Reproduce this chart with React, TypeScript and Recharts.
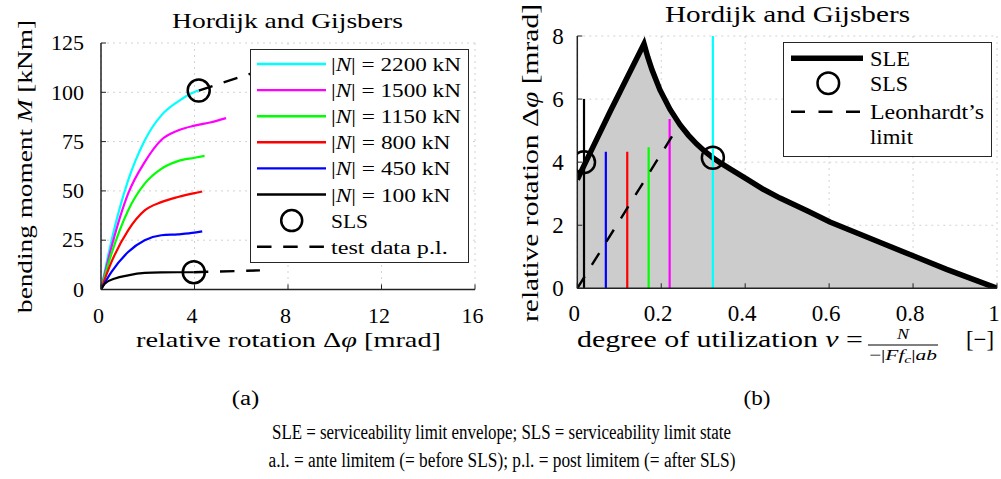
import React from 'react';
import { ComposedChart, Line, Area, Scatter, XAxis, YAxis, CartesianGrid, Legend } from 'recharts';

const FONT = '"Liberation Serif", "Times New Roman", serif';
const AX = '#222222';
const GRID = '#d2d2d2';

// ---------- (a) bending moment vs relative rotation ----------
const loadLabels = ['2200', '1500', '1150', '800', '450', '100'];
const loadColors = ['#00ffff', '#ff00ff', '#00ff00', '#ff0000', '#0000ff', '#000000'];

const phi2200 = [0, 0.45, 1.16, 1.87, 2.58, 3.29, 4.0, 4.18];
const m2200 = [0, 24.9, 55.3, 75.6, 88.3, 95.3, 100.2, 100.9];
const phi1500 = [0, 0.45, 1.16, 1.87, 2.58, 3.29, 4.0, 4.71, 5.35];
const m1500 = [0, 21.6, 48.6, 64.6, 75.8, 80.6, 83.1, 84.8, 86.9];
const phi1150 = [0, 0.45, 1.16, 1.87, 2.58, 3.29, 4.0, 4.43];
const m1150 = [0, 18.2, 40.1, 53.7, 61.2, 65.1, 66.8, 67.8];
const phi800 = [0, 0.45, 1.16, 1.87, 2.58, 3.29, 4.0, 4.33];
const m800 = [0, 14.0, 30.0, 40.1, 44.3, 46.9, 48.9, 49.7];
const phi450 = [0, 0.45, 1.16, 1.87, 2.58, 3.29, 4.0, 4.33];
const m450 = [0, 8.9, 19.0, 25.0, 27.5, 28.0, 28.8, 29.5];
const phi100 = [0, 0.17, 0.6, 1.16, 1.87, 2.58, 3.29, 3.97];
const m100 = [0, 3.0, 5.6, 7.2, 8.4, 8.7, 8.75, 8.76];

const slsPhiA = [4.18, 3.97];
const slsMA = [100.9, 8.76];
const testTopPhi = [4.18, 6.8];
const testTopM = [100.9, 111.0];
const testBotPhi = [3.97, 6.8];
const testBotM = [8.76, 9.7];

const xTicksA = [0, 4, 8, 12, 16];
const yTicksA = [0, 25, 50, 75, 100, 125];

// ---------- (b) relative rotation vs degree of utilization ----------
const sleNu = [0, 0.03, 0.078, 0.159, 0.168, 0.178, 0.197, 0.221, 0.245, 0.265, 0.284, 0.304, 0.323, 0.344, 0.364, 0.404, 0.443, 0.483, 0.55, 0.602, 0.722, 0.8, 0.88, 1];
const sleRot = [3.45, 4.28, 5.6, 7.75, 7.33, 6.93, 6.29, 5.67, 5.18, 4.85, 4.58, 4.34, 4.14, 3.95, 3.79, 3.46, 3.14, 2.86, 2.44, 2.1, 1.45, 1.03, 0.6, 0];

const utilNu = [0.016, 0.068, 0.119, 0.17, 0.22, 0.323];
const utilTop = [6.0, 4.33, 4.33, 4.47, 5.37, 8.0];
const utilColors = ['#000000', '#0000ff', '#ff0000', '#00ff00', '#ff00ff', '#00ffff'];

const slsNuB = [0.016, 0.323];
const slsRotB = [4.0, 4.14];
const leonNu = [0, 0.245];
const leonRot = [0, 5.23];

const xTicksB = [0, 0.2, 0.4, 0.6, 0.8, 1];
const yTicksB = [0, 2, 4, 6, 8];

const pts = (xs: number[], ys: number[]) => xs.map((x, i) => ({ x, y: ys[i] }));

const makeXTick = (fs: number, dx: number) => (props: any) => {
  const { x, y, payload } = props;
  return (
    <g>
      <line x1={x} x2={x} y1={y} y2={y - 5} stroke={AX} strokeWidth={1} />
      <text x={x + dx} y={y + 33} textAnchor="middle" fontSize={fs} fontFamily={FONT} fill="#000">
        {String(payload.value)}
      </text>
    </g>
  );
};

const makeYTick = (fs: number, off: number) => (props: any) => {
  const { x, y, payload } = props;
  return (
    <g>
      <line x1={x} x2={x + 5} y1={y} y2={y} stroke={AX} strokeWidth={1} />
      <text x={x - off} y={y + fs * 0.33} textAnchor="end" fontSize={fs} fontFamily={FONT} fill="#000">
        {String(payload.value)}
      </text>
    </g>
  );
};

const Ring = (props: any) => {
  const { cx, cy } = props;
  return <circle cx={cx} cy={cy} r={11} fill="none" stroke="#000" strokeWidth={2.5} />;
};

const LegendA = () => (
  <svg width={220} height={215} style={{ display: 'block', overflow: 'visible' }}>
    <rect x={0.5} y={0.5} width={218} height={213} fill="#fff" stroke="#262626" strokeWidth={1} />
    {loadLabels.map((lab, i) => {
      const cy = 15 + i * 26.1;
      const w = lab.length === 4 ? 130 : 119.5;
      return (
        <g key={lab}>
          <line x1={7} x2={76} y1={cy} y2={cy} stroke={loadColors[i]} strokeWidth={2.4} />
          <text x={81} y={cy + 7} fontSize={19.5} fontFamily={FONT} textLength={w} lengthAdjust="spacingAndGlyphs">
            |<tspan fontStyle="italic">N</tspan>| = {lab} kN
          </text>
        </g>
      );
    })}
    <circle cx={41.7} cy={171.6} r={10.5} fill="none" stroke="#000" strokeWidth={2.5} />
    <text x={81} y={178.6} fontSize={19.5} fontFamily={FONT} textLength={37} lengthAdjust="spacingAndGlyphs">SLS</text>
    <line x1={7} x2={76} y1={197.7} y2={197.7} stroke="#000" strokeWidth={2.4} strokeDasharray="14.5 11.7" />
    <text x={81} y={204.7} fontSize={19.5} fontFamily={FONT} textLength={116.7} lengthAdjust="spacingAndGlyphs">test data p.l.</text>
  </svg>
);

const LegendB = () => (
  <svg width={210} height={116} style={{ display: 'block', overflow: 'visible' }}>
    <rect x={0.5} y={0.5} width={208} height={114} fill="#fff" stroke="#262626" strokeWidth={1} />
    <line x1={8} x2={80} y1={16.3} y2={16.3} stroke="#000" strokeWidth={5.5} />
    <text x={87} y={23.5} fontSize={20.5} fontFamily={FONT} textLength={40} lengthAdjust="spacingAndGlyphs">SLE</text>
    <circle cx={45.3} cy={41.3} r={10.8} fill="none" stroke="#000" strokeWidth={2.5} />
    <text x={87} y={48.5} fontSize={20.5} fontFamily={FONT} textLength={38} lengthAdjust="spacingAndGlyphs">SLS</text>
    <line x1={8} x2={80} y1={69.7} y2={69.7} stroke="#000" strokeWidth={2.4} strokeDasharray="14 13.5" />
    <text x={87} y={76.9} fontSize={20.5} fontFamily={FONT} textLength={114} lengthAdjust="spacingAndGlyphs">Leonhardt’s</text>
    <text x={87} y={101.9} fontSize={20.5} fontFamily={FONT} textLength={43} lengthAdjust="spacingAndGlyphs">limit</text>
  </svg>
);

const T = ({ x, y, w, fs, anchor = 'middle', rot = false, children }: any) => (
  <text
    x={rot ? 0 : x}
    y={rot ? 0 : y}
    transform={rot ? `translate(${x} ${y}) rotate(-90)` : undefined}
    textAnchor={anchor}
    fontSize={fs}
    fontFamily={FONT}
    fill="#000"
    textLength={w}
    lengthAdjust="spacingAndGlyphs"
  >
    {children}
  </text>
);

export default function App() {
  const seriesA = [
    pts(phi2200, m2200),
    pts(phi1500, m1500),
    pts(phi1150, m1150),
    pts(phi800, m800),
    pts(phi450, m450),
    pts(phi100, m100),
  ];
  return (
    <div style={{ position: 'absolute', left: 0, top: 0, width: 1001, height: 479, background: '#fff', overflow: 'hidden' }}>
      <div style={{ position: 'absolute', left: 0, top: 0 }}>
        <ComposedChart width={500} height={479} margin={{ top: 43, left: 41, right: 25, bottom: 149.5 }}>
          <CartesianGrid stroke={GRID} strokeDasharray="2 4" />
          <XAxis
            type="number"
            dataKey="x"
            domain={[0, 16]}
            ticks={xTicksA}
            interval={0}
            height={40}
            tickSize={0}
            tickMargin={0}
            tickLine={false}
            axisLine={{ stroke: AX, strokeWidth: 1.5 }}
            tick={makeXTick(22, -2.5)}
            allowDataOverflow
          />
          <YAxis
            type="number"
            dataKey="y"
            domain={[0, 125]}
            ticks={yTicksA}
            interval={0}
            width={60}
            tickSize={0}
            tickMargin={0}
            tickLine={false}
            axisLine={{ stroke: AX, strokeWidth: 1.5 }}
            tick={makeYTick(22, 17)}
            allowDataOverflow
          />
          <Line data={pts(testTopPhi, testTopM)} dataKey="y" type="linear" stroke="#000" strokeWidth={2.4} strokeDasharray="14.5 11.7" dot={false} activeDot={false} isAnimationActive={false} />
          <Line data={pts(testBotPhi, testBotM)} dataKey="y" type="linear" stroke="#000" strokeWidth={2.4} strokeDasharray="14.5 11.7" dot={false} activeDot={false} isAnimationActive={false} />
          {seriesA.map((d, i) => (
            <Line key={loadLabels[i]} data={d} dataKey="y" type="monotone" stroke={loadColors[i]} strokeWidth={2.2} dot={false} activeDot={false} isAnimationActive={false} />
          ))}
          <Scatter data={pts(slsPhiA, slsMA)} dataKey="y" shape={Ring} isAnimationActive={false} />
          <Legend
            layout="horizontal"
            align="center"
            verticalAlign="middle"
            content={LegendA}
            wrapperStyle={{ left: 250, top: 49, width: 220, height: 215 }}
          />
        </ComposedChart>
      </div>
      <div style={{ position: 'absolute', left: 500, top: 0 }}>
        <ComposedChart width={501} height={479} margin={{ top: 36, left: 17.3, right: 4, bottom: 150.7 }}>
          <CartesianGrid stroke={GRID} strokeDasharray="2 4" />
          <XAxis
            type="number"
            dataKey="x"
            domain={[0, 1]}
            ticks={xTicksB}
            interval={0}
            height={40}
            tickSize={0}
            tickMargin={0}
            tickLine={false}
            axisLine={{ stroke: AX, strokeWidth: 1.5 }}
            tick={makeXTick(23, -3)}
            allowDataOverflow
          />
          <YAxis
            type="number"
            dataKey="y"
            domain={[0, 8]}
            ticks={yTicksB}
            interval={0}
            width={60}
            tickSize={0}
            tickMargin={0}
            tickLine={false}
            axisLine={{ stroke: AX, strokeWidth: 1.5 }}
            tick={makeYTick(23, 13.5)}
            allowDataOverflow
          />
          <Area data={pts(sleNu, sleRot)} dataKey="y" type="linear" fill="#cccccc" fillOpacity={1} stroke="none" isAnimationActive={false} dot={false} activeDot={false} />
          <Line data={pts(sleNu, sleRot)} dataKey="y" type="linear" stroke="#000" strokeWidth={5.5} dot={false} activeDot={false} isAnimationActive={false} />
          {utilNu.map((nu, i) => (
            <Line key={'u' + i} data={pts([nu, nu], [0, utilTop[i]])} dataKey="y" type="linear" stroke={utilColors[i]} strokeWidth={2.2} dot={false} activeDot={false} isAnimationActive={false} />
          ))}
          <Line data={pts(leonNu, leonRot)} dataKey="y" type="linear" stroke="#000" strokeWidth={2.4} strokeDasharray="14 13.5" dot={false} activeDot={false} isAnimationActive={false} />
          <Scatter data={pts(slsNuB, slsRotB)} dataKey="y" shape={Ring} isAnimationActive={false} />
          <Legend
            layout="horizontal"
            align="center"
            verticalAlign="middle"
            content={LegendB}
            wrapperStyle={{ left: 283, top: 42, width: 210, height: 116 }}
          />
        </ComposedChart>
      </div>
      <svg width={1001} height={479} style={{ position: 'absolute', left: 0, top: 0, pointerEvents: 'none' }}>
        <T x={287.5} y={28} w={231} fs={22}>Hordijk and Gijsbers</T>
        <T x={787.5} y={22} w={245} fs={23}>Hordijk and Gijsbers</T>
        <T x={32} y={166.5} w={293} fs={22} rot>
          bending moment <tspan fontStyle="italic">M</tspan> [kNm]
        </T>
        <T x={288.5} y={347} w={305} fs={22}>
          relative rotation Δ<tspan fontStyle="italic">φ</tspan> [mrad]
        </T>
        <T x={537.5} y={163} w={318} fs={23} rot>
          relative rotation Δ<tspan fontStyle="italic">φ</tspan> [mrad]
        </T>
        <T x={577} y={347} w={286} fs={23} anchor="start">
          degree of utilization <tspan fontStyle="italic">ν</tspan> =
        </T>
        <T x={903} y={338.5} w={12} fs={15}>
          <tspan fontStyle="italic">N</tspan>
        </T>
        <line x1={868} x2={938} y1={345} y2={345} stroke="#000" strokeWidth={1} />
        <T x={903} y={359.5} w={68} fs={15}>
          −|<tspan fontStyle="italic">Ff</tspan>
          <tspan fontStyle="italic" fontSize={11} dy={3}>c</tspan>
          <tspan dy={-3}>|</tspan>
          <tspan fontStyle="italic">ab</tspan>
        </T>
        <T x={966} y={347} w={28} fs={23} anchor="start">[−]</T>
        <T x={245.5} y={405} w={27.6} fs={20}>(a)</T>
        <T x={757} y={405} w={27} fs={20}>(b)</T>
        <T x={501.5} y={439} w={459} fs={20}>
          SLE = serviceability limit envelope; SLS = serviceability limit state
        </T>
        <T x={502} y={467} w={467} fs={20}>
          a.l. = ante limitem (= before SLS); p.l. = post limitem (= after SLS)
        </T>
      </svg>
    </div>
  );
}
